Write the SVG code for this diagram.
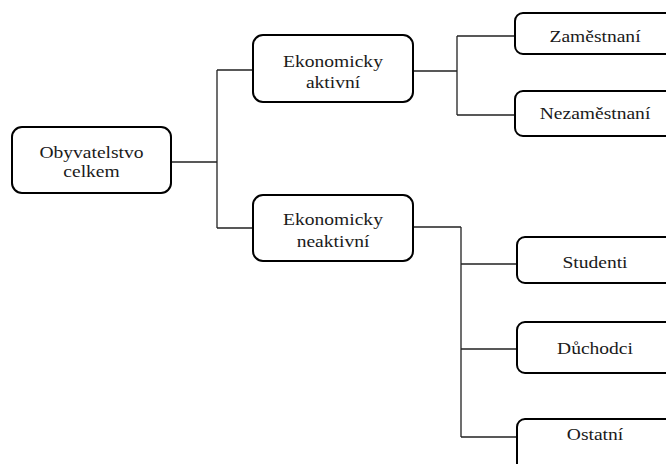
<svg xmlns="http://www.w3.org/2000/svg" width="666" height="464" viewBox="0 0 666 464">
<style>
.box{fill:#fff;stroke:#000;stroke-width:2}
.lbl{font-family:"Liberation Serif","Times New Roman",serif;font-size:17px;fill:#1a1a1a;text-anchor:middle}
.con{fill:none;stroke:#222;stroke-width:1.3}
</style>
<rect width="666" height="464" fill="#fff"/>
<g id="connectors">
<path class="con" d="M171 162H217M217 70V228M217 70H253M217 228H253"/>
<path class="con" d="M413 71H457M457 36V115M457 36H515M457 115H515"/>
<path class="con" d="M413 227H461M461 227V437M461 264H517M461 349H517M461 437H517"/>
</g>
<g id="obyvatelstvo">
<rect class="box" x="12" y="127" width="159" height="66" rx="10"/>
<text class="lbl" transform="translate(91.5,158) scale(1.15,1)">Obyvatelstvo</text>
<text class="lbl" transform="translate(91.5,177) scale(1.15,1)">celkem</text>
</g>
<g id="aktivni">
<rect class="box" x="253" y="35" width="160" height="67" rx="10"/>
<text class="lbl" transform="translate(333,67) scale(1.15,1)">Ekonomicky</text>
<text class="lbl" transform="translate(333,88) scale(1.15,1)">aktivní</text>
</g>
<g id="neaktivni">
<rect class="box" x="253" y="195" width="160" height="66" rx="10"/>
<text class="lbl" transform="translate(333,225) scale(1.15,1)">Ekonomicky</text>
<text class="lbl" transform="translate(333,247) scale(1.15,1)">neaktivní</text>
</g>
<g id="zamestnani">
<rect class="box" x="515" y="13" width="165" height="41" rx="8"/>
<text class="lbl" transform="translate(595,42) scale(1.15,1)">Zaměstnaní</text>
</g>
<g id="nezamestnani">
<rect class="box" x="515" y="91" width="165" height="45" rx="8"/>
<text class="lbl" transform="translate(595,119) scale(1.15,1)">Nezaměstnaní</text>
</g>
<g id="studenti">
<rect class="box" x="517" y="237" width="165" height="46" rx="8"/>
<text class="lbl" transform="translate(595,268) scale(1.15,1)">Studenti</text>
</g>
<g id="duchodci">
<rect class="box" x="517" y="322" width="165" height="51" rx="8"/>
<text class="lbl" transform="translate(595,354) scale(1.15,1)">Důchodci</text>
</g>
<g id="ostatni">
<rect class="box" x="517" y="419" width="165" height="60" rx="8"/>
<text class="lbl" transform="translate(595,440) scale(1.15,1)">Ostatní</text>
</g>
</svg>
